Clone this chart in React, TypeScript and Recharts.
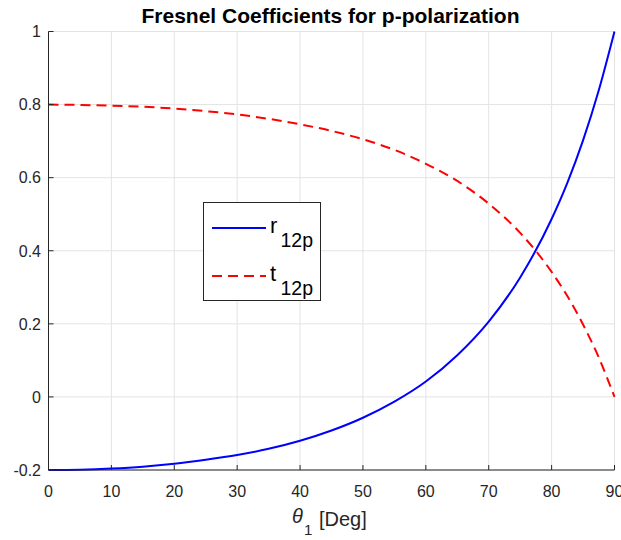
import React from 'react';
import { LineChart, Line, XAxis, YAxis, CartesianGrid, Legend } from 'recharts';

// angle of incidence (deg) and the two coefficients
const theta = [0, 5, 10, 15, 20, 25, 30, 35, 40, 45, 50, 55, 60, 65, 70, 75, 80, 82.5, 85, 87.5, 90];
const r12p = [-0.2, -0.199, -0.196, -0.191, -0.183, -0.172, -0.159, -0.142, -0.12, -0.092, -0.057, -0.013, 0.042, 0.114, 0.206, 0.327, 0.487, 0.586, 0.702, 0.839, 1];
const t12p = [0.8, 0.799, 0.797, 0.794, 0.789, 0.782, 0.773, 0.761, 0.746, 0.728, 0.705, 0.676, 0.638, 0.591, 0.529, 0.449, 0.342, 0.276, 0.198, 0.108, 0];

const xTicks = [0, 10, 20, 30, 40, 50, 60, 70, 80, 90];
const yTicks = [-0.2, 0, 0.2, 0.4, 0.6, 0.8, 1];

const data = theta.map((th, i) => ({ theta: th, r: r12p[i], t: t12p[i] }));

const FONT = '"Liberation Sans", Arial, Helvetica, sans-serif';
const AXIS = '#262626';

const XTick = (props: any) => {
  const { x, y, payload } = props;
  return (
    <g>
      <line x1={x} y1={y} x2={x} y2={y - 5} stroke={AXIS} strokeWidth={1} />
      <text x={x} y={y + 27} textAnchor="middle" fontSize={16} fill={AXIS} fontFamily={FONT}>
        {payload.value}
      </text>
    </g>
  );
};

const YTick = (props: any) => {
  const { x, y, payload } = props;
  return (
    <g>
      <line x1={x} y1={y} x2={x + 5} y2={y} stroke={AXIS} strokeWidth={1} />
      <text x={x - 7.5} y={y} dy="0.36em" textAnchor="end" fontSize={16} fill={AXIS} fontFamily={FONT}>
        {payload.value}
      </text>
    </g>
  );
};

const renderLegend = () => (
  <svg width={118} height={99} style={{ display: 'block' }}>
    <rect x={0.5} y={0.5} width={117} height={98} fill="#fff" stroke={AXIS} strokeWidth={1} />
    <line x1={9} y1={26} x2={63} y2={26} stroke="#0000ff" strokeWidth={2} />
    <line x1={9} y1={74} x2={63} y2={74} stroke="#ff0000" strokeWidth={2} strokeDasharray="10 6" />
    <text x={67} y={31} fontSize={22} fill="#000" fontFamily={FONT}>r</text>
    <text x={77.5} y={45} fontSize={19.5} fill="#000" fontFamily={FONT}>12p</text>
    <text x={67} y={79} fontSize={22} fill="#000" fontFamily={FONT}>t</text>
    <text x={77.5} y={93} fontSize={19.5} fill="#000" fontFamily={FONT}>12p</text>
  </svg>
);

export default function App() {
  return (
    <div style={{ position: 'absolute', left: 0, top: 0, width: 621, height: 540, background: '#fff' }}>
      <LineChart width={621} height={540} data={data} margin={{ top: 31.5, right: 6.5, bottom: 40, left: 0 }}>
        <CartesianGrid stroke="#e3e3e3" strokeWidth={1} horizontalValues={yTicks} verticalValues={xTicks} />
        <XAxis
          dataKey="theta"
          type="number"
          domain={[0, 90]}
          ticks={xTicks}
          interval={0}
          height={30}
          stroke={AXIS}
          tickSize={0}
          tickMargin={0}
          tickLine={false}
          tick={<XTick />}
        />
        <YAxis
          type="number"
          domain={[-0.2, 1]}
          ticks={yTicks}
          interval={0}
          width={48.5}
          stroke={AXIS}
          tickSize={0}
          tickMargin={0}
          tickLine={false}
          tick={<YTick />}
        />
        <Legend
          layout="vertical"
          align="center"
          verticalAlign="middle"
          content={renderLegend}
          wrapperStyle={{ left: 203, top: 202, width: 118, height: 99 }}
        />
        <Line type="monotone" dataKey="r" stroke="#0000ff" strokeWidth={2} dot={false} isAnimationActive={false} />
        <Line type="monotone" dataKey="t" stroke="#ff0000" strokeWidth={2} strokeDasharray="10 6" dot={false} isAnimationActive={false} />
      </LineChart>
      <svg width={621} height={540} style={{ position: 'absolute', left: 0, top: 0, pointerEvents: 'none' }}>
        <text x={330.5} y={23} textAnchor="middle" fontSize={21} fontWeight="bold" fill="#000" fontFamily={FONT}>
          Fresnel Coefficients for p-polarization
        </text>
        <text x={292} y={523} fontSize={20} fontStyle="italic" fill={AXIS} fontFamily={FONT}>θ</text>
        <text x={304} y={535} fontSize={15} fill={AXIS} fontFamily={FONT}>1</text>
        <text x={319} y={526} fontSize={20} fill={AXIS} fontFamily={FONT}>[Deg]</text>
      </svg>
    </div>
  );
}
